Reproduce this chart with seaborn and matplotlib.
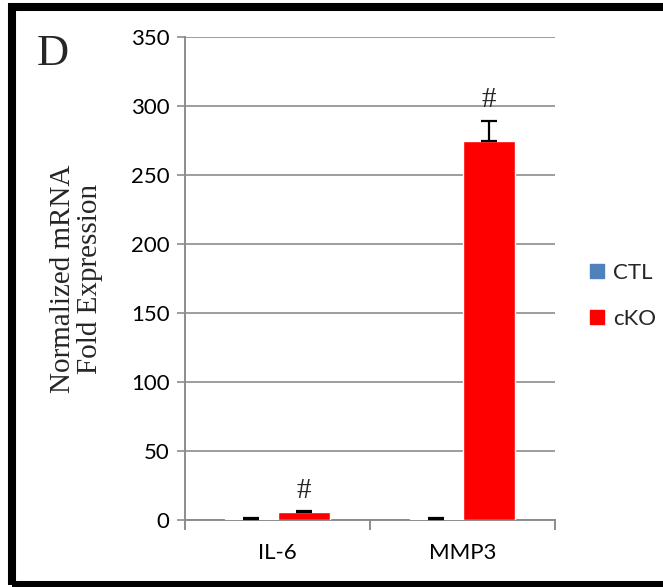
import matplotlib
matplotlib.use("Agg")
import matplotlib.pyplot as plt
import seaborn as sns
import pandas as pd
import numpy as np
from matplotlib.patches import Rectangle
from matplotlib.lines import Line2D

genes = ["IL-6", "MMP3"]
groups = ["CTL", "cKO"]
ctl_vals = [1.0, 1.0]
cko_vals = [5.5, 275.0]
ctl_err = [0.3, 0.4]
cko_err = [0.8, 14.0]
marks = ["#", "#"]
yticks = [0, 50, 100, 150, 200, 250, 300, 350]
colors = {"CTL": "#4F81BD", "cKO": "#FF0000"}

df = pd.DataFrame({
    "gene": genes * 2,
    "group": ["CTL"] * 2 + ["cKO"] * 2,
    "value": ctl_vals + cko_vals,
    "err": ctl_err + cko_err,
})

sns.set_style("white")
plt.rcParams["font.family"] = ["Lato", "DejaVu Sans"]

fig = plt.figure(figsize=(6.63, 5.87), dpi=100)
ax = fig.add_axes([185/663, (587-520)/587, (555-185)/663, (520-37)/587])

sns.barplot(data=df, x="gene", y="value", hue="group", order=genes,
            hue_order=groups, palette=colors, width=0.57, errorbar=None,
            ax=ax, legend=False, zorder=3, saturation=1)

# error bars (upper only)
bars = ax.patches
idx = 0
for grp in groups:
    for g in genes:
        p = bars[idx]
        row = df[(df.gene == g) & (df.group == grp)].iloc[0]
        cx = p.get_x() + p.get_width() / 2
        ax.errorbar(cx, row.value, yerr=[[0], [row.err]], fmt="none",
                    ecolor="black", elinewidth=1.6, capsize=6, capthick=1.6,
                    zorder=4)
        idx += 1

# significance marks above cKO bars
for i, g in enumerate(genes):
    top = cko_vals[i] + cko_err[i]
    ax.text(i + 0.57/4, top + 15, marks[i], ha="center", va="center",
            fontsize=21, family="Liberation Serif", zorder=5)

ax.set_xlim(-0.5, 1.5)
ax.set_ylim(0, 350)
ax.set_yticks(yticks)
ax.set_yticklabels([str(v) for v in yticks], fontsize=16)
ax.set_xticks([0, 1])
ax.set_xticklabels(genes, fontsize=16)
ax.set_xlabel("")
ax.set_ylabel("Normalized mRNA\nFold Expression", family="Liberation Serif",
              fontsize=21, labelpad=20, linespacing=1.05)

ax.yaxis.grid(True, color="#8c8c8c", linewidth=1.2, zorder=0)
ax.set_axisbelow(True)
for s in ["top", "right"]:
    ax.spines[s].set_visible(False)
for s in ["left", "bottom"]:
    ax.spines[s].set_color("#8c8c8c")
    ax.spines[s].set_linewidth(1.4)

ax.tick_params(axis="y", which="major", left=True, length=6, width=1.2,
               color="#8c8c8c", pad=5, labelcolor="black")
ax.tick_params(axis="x", which="major", bottom=False, pad=13, labelcolor="black")
# x ticks at category boundaries
ax.set_xticks([-0.5, 0.5, 1.5], minor=True)
ax.tick_params(axis="x", which="minor", bottom=True, length=7, width=1.4,
               color="#8c8c8c")

# legend
handles = [Line2D([0], [0], marker="s", linestyle="none", markersize=10,
                  markerfacecolor=colors[g], markeredgecolor=colors[g])
           for g in groups]
fig.legend(handles, groups, loc="center left",
           bbox_to_anchor=(566/663, 1 - 296/587), frameon=False, fontsize=16,
           handletextpad=0.2, labelspacing=1.15, handlelength=1.0)

# panel letter
fig.text(37/663, 1 - 54/587, "D", family="Liberation Serif", fontsize=32,
         ha="left", va="center")

# figure border (top, left, bottom; right is cropped)
fig.patches.append(Rectangle((12/663, (587-585)/587), 1.2, (585-7)/587,
                             transform=fig.transFigure, fill=False,
                             edgecolor="black", linewidth=5.8, zorder=10))

fig.savefig("out.png", dpi=100)
